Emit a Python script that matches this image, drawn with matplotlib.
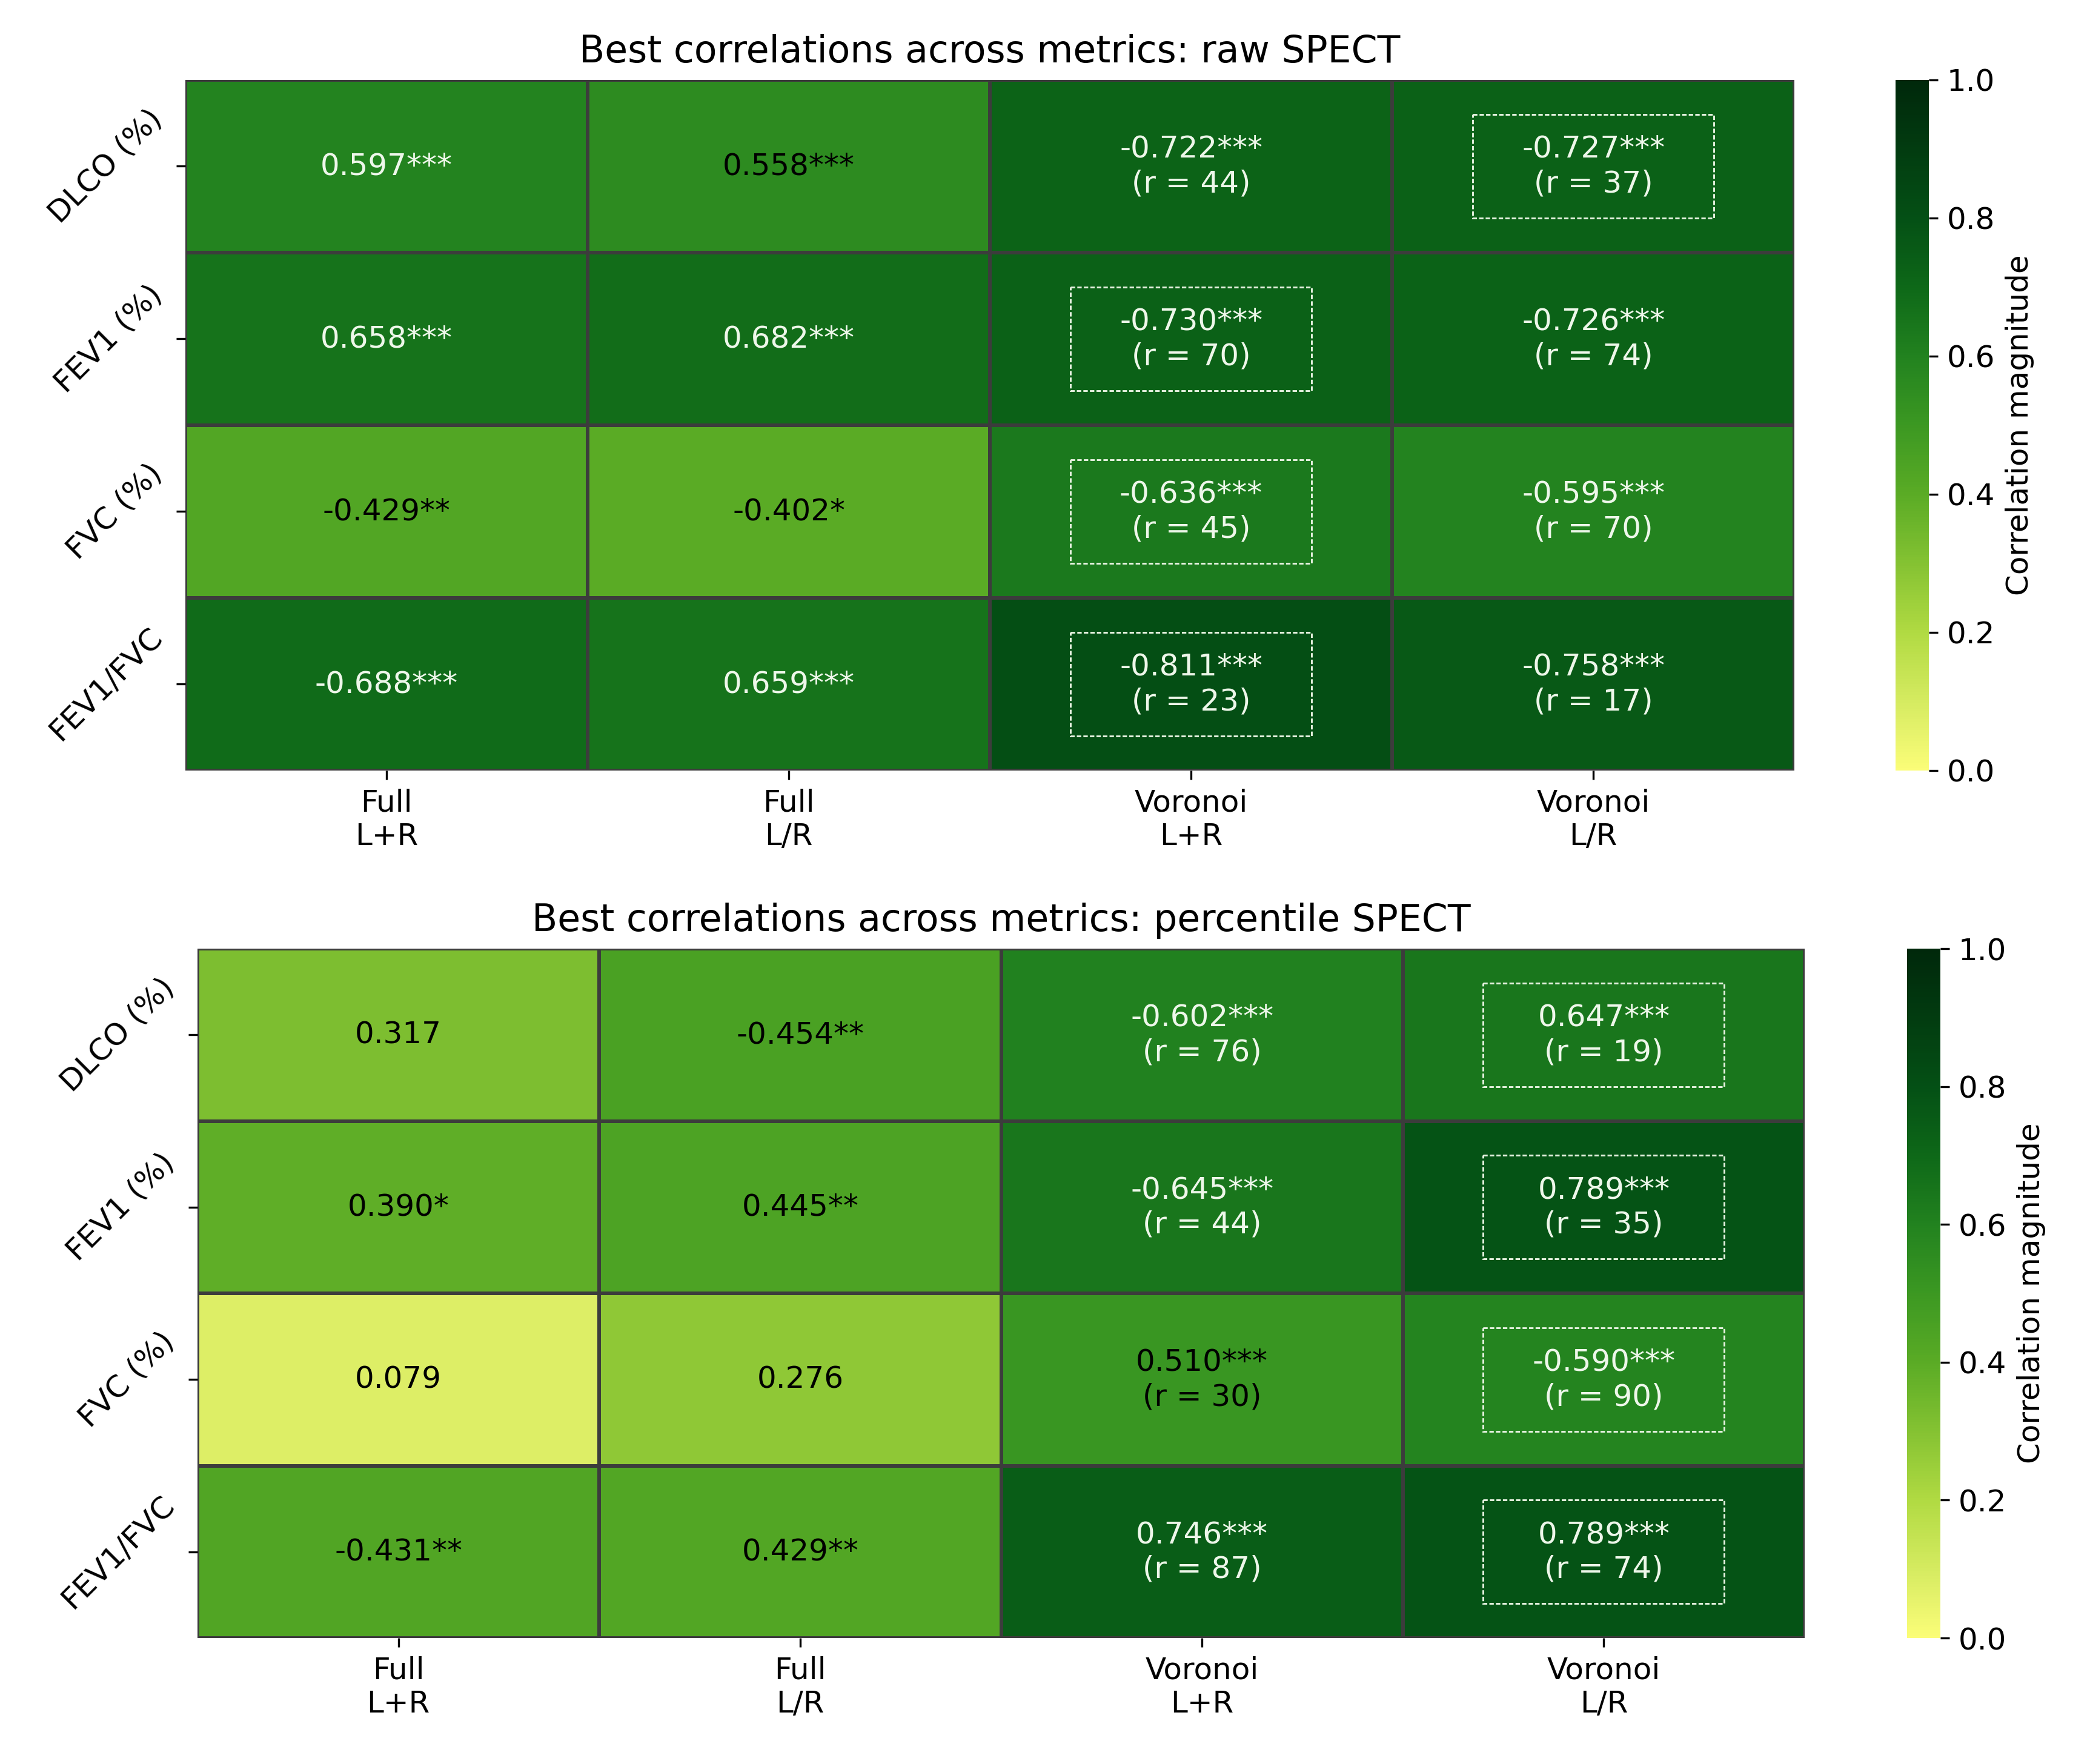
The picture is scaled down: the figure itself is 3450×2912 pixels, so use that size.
import numpy as np
import matplotlib
matplotlib.use('Agg')
import matplotlib.pyplot as plt
import seaborn as sns
from matplotlib.colors import LinearSegmentedColormap
from matplotlib.patches import Rectangle

# Etiquetas
rows = ['DLCO (%)', 'FEV1 (%)', 'FVC (%)', 'FEV1/FVC']
cols = ['Full\nL+R', 'Full\nL/R', 'Voronoi\nL+R', 'Voronoi\nL/R']

# raw SPECT
raw_vals = [[0.597, 0.558, -0.722, -0.727],
            [0.658, 0.682, -0.730, -0.726],
            [-0.429, -0.402, -0.636, -0.595],
            [-0.688, 0.659, -0.811, -0.758]]
raw_stars = [['***', '***', '***', '***'],
             ['***', '***', '***', '***'],
             ['**', '*', '***', '***'],
             ['***', '***', '***', '***']]
raw_r = [[None, None, 44, 37],
         [None, None, 70, 74],
         [None, None, 45, 70],
         [None, None, 23, 17]]
raw_box = [[0, 0, 0, 1],
           [0, 0, 1, 0],
           [0, 0, 1, 0],
           [0, 0, 1, 0]]

# percentile SPECT
pct_vals = [[0.317, -0.454, -0.602, 0.647],
            [0.390, 0.445, -0.645, 0.789],
            [0.079, 0.276, 0.510, -0.590],
            [-0.431, 0.429, 0.746, 0.789]]
pct_stars = [['', '**', '***', '***'],
             ['*', '**', '***', '***'],
             ['', '', '***', '***'],
             ['**', '**', '***', '***']]
pct_r = [[None, None, 76, 19],
         [None, None, 44, 35],
         [None, None, 30, 90],
         [None, None, 87, 74]]
pct_box = [[0, 0, 0, 1],
           [0, 0, 0, 1],
           [0, 0, 0, 1],
           [0, 0, 0, 1]]

# Mapa de cores amarelo -> verde escuro
cmap = LinearSegmentedColormap.from_list('yg', [
    (0.0, '#fbfd78'), (0.08, '#dcee66'), (0.2, '#b0da42'), (0.3, '#84c232'),
    (0.4, '#5aab25'), (0.5, '#3c9822'), (0.6, '#22821f'), (0.7, '#0e6818'),
    (0.8, '#045015'), (0.9, '#023c10'), (1.0, '#00280b')])

fig = plt.figure(figsize=(11.5, 2912 / 300), dpi=300)


def painel(pos, cpos, vals, stars, rr, box, titulo):
    ax = fig.add_axes(pos)
    cax = fig.add_axes(cpos)
    v = np.array(vals)
    sns.heatmap(np.abs(v), cmap=cmap, vmin=0, vmax=1, ax=ax, cbar_ax=cax,
                linewidths=1.0, linecolor='#3c3c3c',
                cbar_kws={'ticks': [0, 0.2, 0.4, 0.6, 0.8, 1.0]})
    for i in range(4):
        for j in range(4):
            txt = f'{v[i, j]:.3f}{stars[i][j]}'
            if rr[i][j] is not None:
                txt += f'\n(r = {rr[i][j]})'
            cor = '#eef7ea' if abs(v[i, j]) > 0.575 else 'black'
            ax.text(j + 0.5, i + 0.5, txt, ha='center', va='center',
                    fontsize=12, color=cor, linespacing=1.25)
            if box[i][j]:
                ax.add_patch(Rectangle((j + 0.2, i + 0.2), 0.6, 0.6, fill=False,
                                       edgecolor='#e6f2e0', lw=0.7,
                                       linestyle=(0, (2.5, 1.2))))
    ax.set_xticklabels(cols, rotation=0, fontsize=12)
    ax.set_yticklabels(rows, rotation=45, fontsize=12, ha='right', va='center')
    ax.set_title(titulo, fontsize=14.8, pad=7)
    cax.set_ylabel('Correlation magnitude', fontsize=12)
    cax.tick_params(labelsize=12)
    return ax


painel([0.0887, 0.5632, 0.7699, 0.3915], [0.907, 0.5632, 0.016, 0.3915],
       raw_vals, raw_stars, raw_r, raw_box,
       'Best correlations across metrics: raw SPECT')
painel([0.0945, 0.0714, 0.769, 0.3908], [0.9125, 0.0714, 0.016, 0.3908],
       pct_vals, pct_stars, pct_r, pct_box,
       'Best correlations across metrics: percentile SPECT')

plt.savefig('out.png', dpi=300)
